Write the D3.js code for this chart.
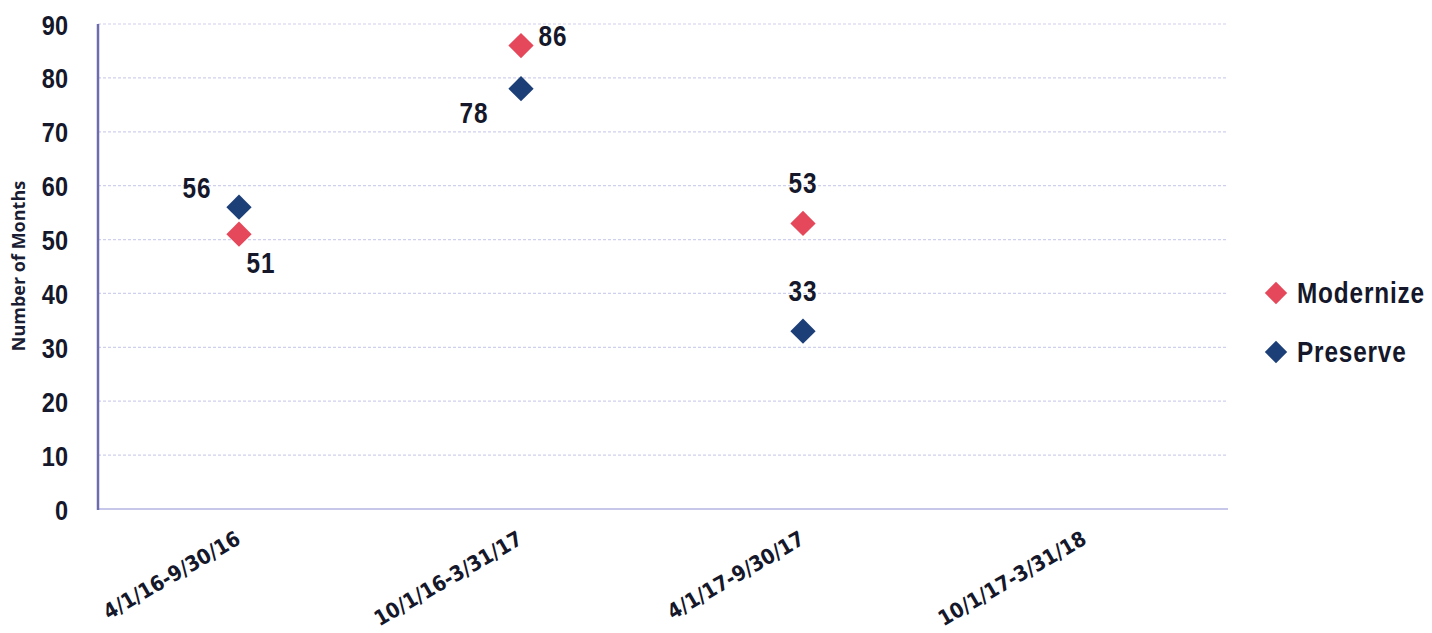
<!DOCTYPE html>
<html>
<head>
<meta charset="utf-8">
<script src="https://cdn.jsdelivr.net/npm/d3@7"></script>
<style>
  html, body { margin: 0; padding: 0; background: #ffffff; }
  svg { display: block; }
</style>
</head>
<body>
<svg id="chart" width="1432" height="633"></svg>
<script>
// ---- data ----
const categories = ["4/1/16-9/30/16", "10/1/16-3/31/17", "4/1/17-9/30/17", "10/1/17-3/31/18"];
const modernize = [51, 86, 53, null];
const preserve = [56, 78, 33, null];
const seriesNames = ["Modernize", "Preserve"];
const yTicks = [0, 10, 20, 30, 40, 50, 60, 70, 80, 90];
const yTitle = "Number of Months";

// ---- style ----
const colors = { Modernize: "#e5485a", Preserve: "#1d3f78" };
const numFont = "'Liberation Sans', Arial, sans-serif";
const squeeze = 0.84; // horizontal condensing of the bold numeral face
const textColor = "#15172a";
// label placement offsets (dx, dy from the marker centre to text centre)
const labelOffsets = {
  Modernize: [[22, 28], [32, -10], [0, -41], null],
  Preserve: [[-42, -20], [-47, 24], [0, -41], null]
};

const svg = d3.select("#chart");
const margin = { left: 98, right: 1226, top: 24, bottom: 509 };

const x = d3.scaleBand().domain(categories).range([margin.left, margin.right]).padding(0);
const y = d3.scaleLinear().domain([0, 90]).range([margin.bottom, margin.top]);

// gridlines
svg.append("g")
  .selectAll("line")
  .data(yTicks.filter(d => d > 0))
  .join("line")
  .attr("x1", margin.left)
  .attr("x2", margin.right + 2)
  .attr("y1", d => y(d))
  .attr("y2", d => y(d))
  .attr("stroke", "#cfcfee")
  .attr("stroke-width", 1.2)
  .attr("stroke-dasharray", "3 2");

// x axis baseline
svg.append("line")
  .attr("x1", margin.left).attr("x2", margin.right + 2)
  .attr("y1", y(0)).attr("y2", y(0))
  .attr("stroke", "#b4b4e2").attr("stroke-width", 1.5);

// y axis line
svg.append("line")
  .attr("x1", margin.left).attr("x2", margin.left)
  .attr("y1", y(90)).attr("y2", y(0) + 1)
  .attr("stroke", "#6c6cae").attr("stroke-width", 2.5);

// y tick labels via axis
const yAxis = d3.axisLeft(y).tickValues(yTicks).tickSize(0);
const yg = svg.append("g").attr("transform", `translate(${margin.left},0)`).call(yAxis);
yg.select(".domain").remove();
yg.selectAll("text")
  .attr("font-family", numFont)
  .attr("font-weight", "bold")
  .attr("font-size", 28)
  .attr("fill", textColor)
  .attr("x", 0)
  .attr("dy", "0.36em")
  .attr("transform", `translate(-30,0) scale(${squeeze},1)`);

// y title
svg.append("text")
  .attr("transform", `translate(25, ${266}) rotate(-90)`)
  .attr("text-anchor", "middle")
  .attr("font-family", "'Open Sans', sans-serif")
  .attr("font-weight", "bold")
  .attr("font-size", 18)
  .attr("fill", "#1a1d33")
  .text(yTitle);

// x axis labels via axis
const xAxis = d3.axisBottom(x).tickSize(0).tickPadding(0);
const xg = svg.append("g").attr("transform", `translate(0,${y(0)})`).call(xAxis);
xg.select(".domain").remove();
xg.selectAll("text")
  .attr("font-family", "'DejaVu Sans Condensed', sans-serif")
  .attr("font-weight", "bold")
  .attr("font-size", 21)
  .attr("fill", textColor)
  .attr("text-anchor", "end")
  .attr("dy", 0)
  .attr("transform", "translate(3,34) rotate(-30)");

// markers
const diamond = d3.symbol().type(d3.symbolSquare).size(320);
const allSeries = [
  { name: "Modernize", values: modernize },
  { name: "Preserve", values: preserve }
];
allSeries.forEach(s => {
  const pts = categories.map((c, i) => ({ c, v: s.values[i], i })).filter(d => d.v != null);
  svg.append("g")
    .selectAll("path")
    .data(pts)
    .join("path")
    .attr("d", diamond)
    .attr("transform", d => `translate(${x(d.c) + x.bandwidth() / 2},${y(d.v)}) rotate(45)`)
    .attr("fill", colors[s.name]);
  svg.append("g")
    .selectAll("text")
    .data(pts)
    .join("text")
    .attr("transform", d => `translate(${x(d.c) + x.bandwidth() / 2 + labelOffsets[s.name][d.i][0]},${y(d.v) + labelOffsets[s.name][d.i][1]}) scale(${squeeze},1)`)
    .attr("dy", "0.36em")
    .attr("text-anchor", "middle")
    .attr("font-family", numFont)
    .attr("font-weight", "bold")
    .attr("font-size", 29)
    .attr("letter-spacing", 1)
    .attr("fill", textColor)
    .text(d => d.v);
});

// legend
const legend = svg.append("g");
seriesNames.forEach((n, i) => {
  const cy = 293 + i * 59;
  legend.append("path")
    .attr("d", d3.symbol().type(d3.symbolSquare).size(250))
    .attr("transform", `translate(1276,${cy}) rotate(45)`)
    .attr("fill", colors[n]);
  legend.append("text")
    .attr("transform", `translate(1297,${cy}) scale(${squeeze},1)`)
    .attr("dy", "0.36em")
    .attr("font-family", numFont)
    .attr("font-weight", "bold")
    .attr("font-size", 29)
    .attr("letter-spacing", 1)
    .attr("fill", textColor)
    .text(n);
});
</script>
</body>
</html>
